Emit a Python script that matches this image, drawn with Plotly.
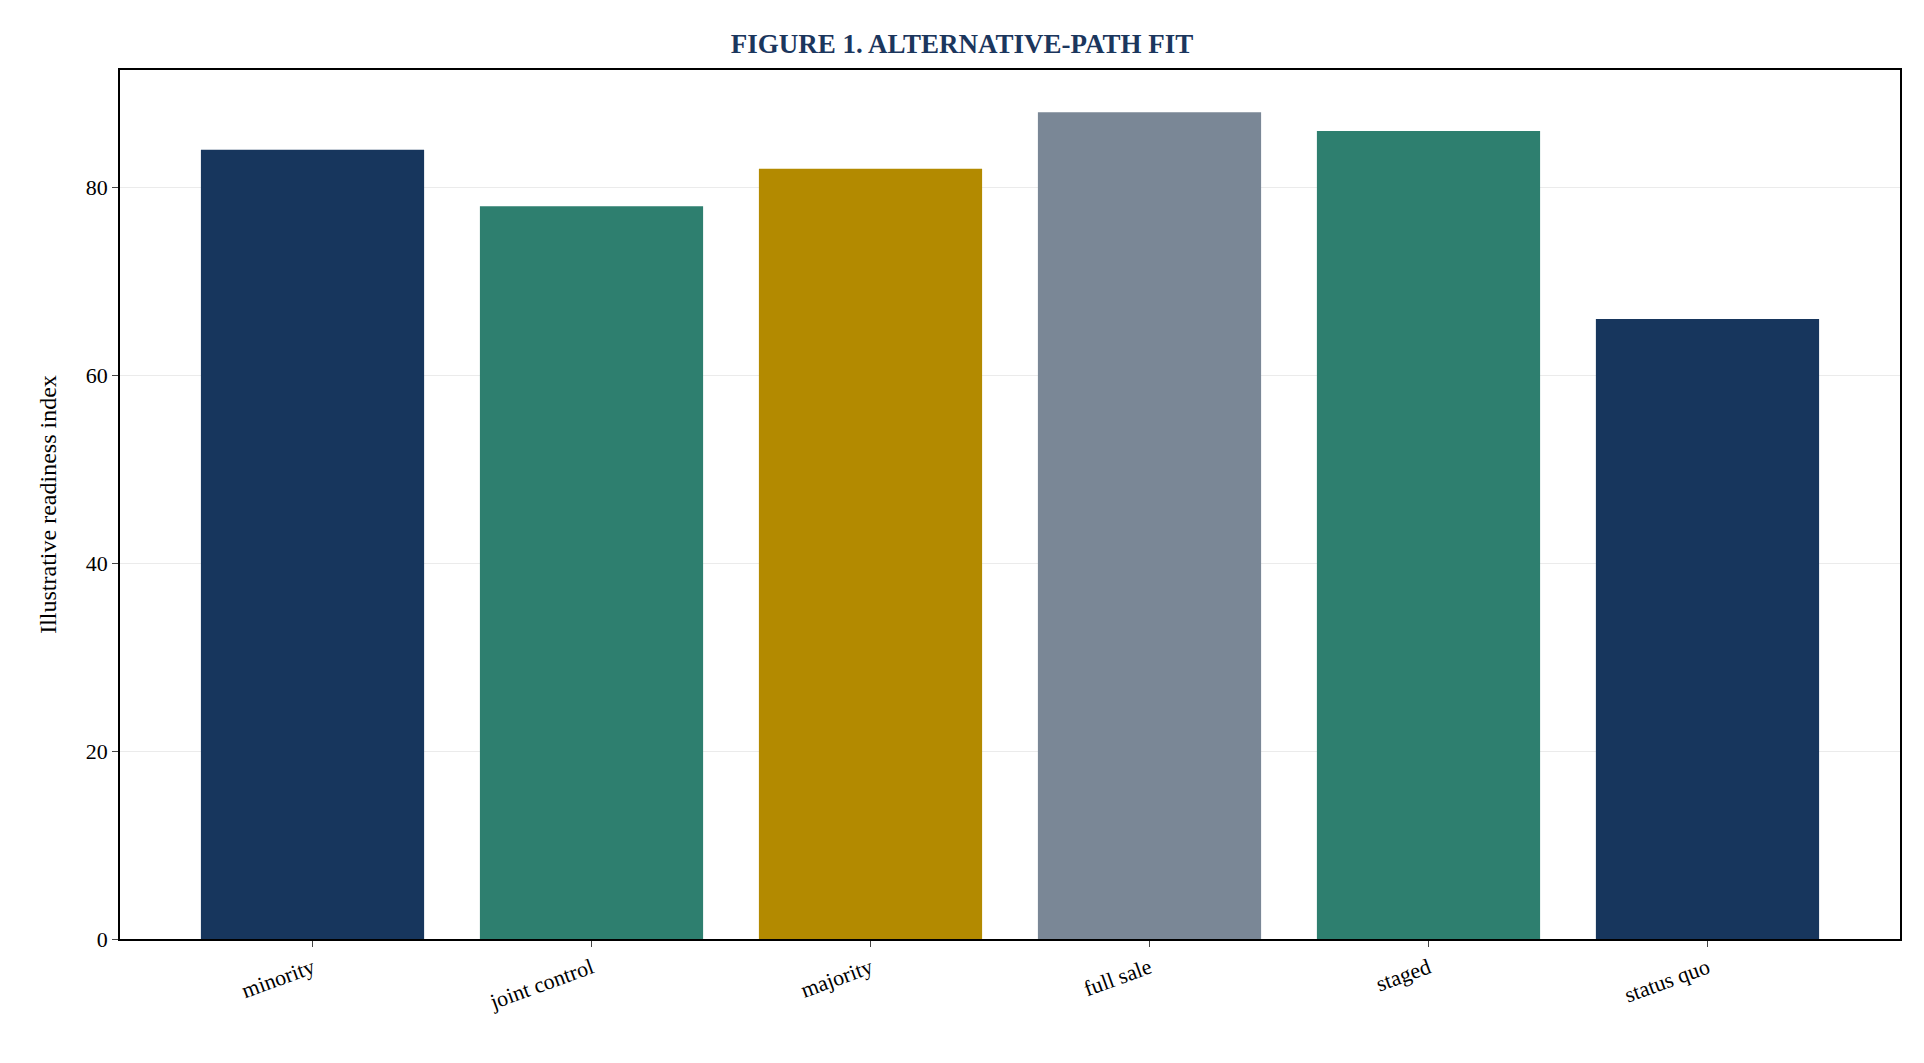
import plotly.graph_objects as go

# chart data
paths = ["minority", "joint control", "majority", "full sale", "staged", "status quo"]
readiness = [84, 78, 82, 88, 86, 66]
bar_colors = ["#17365d", "#2e7f6f", "#b38a00", "#7a8796", "#2e7f6f", "#17365d"]

fig = go.Figure(go.Bar(x=paths, y=readiness, marker_color=bar_colors, marker_line_width=0))

# let the figure fill the browser window
fig.update_layout(
    autosize=True,
    paper_bgcolor="white", plot_bgcolor="white",
    font=dict(family="Liberation Serif", size=22, color="black"),
    title=dict(text="<b>FIGURE 1. ALTERNATIVE-PATH FIT</b>", x=0.5, xanchor="center",
               y=0.975, font=dict(size=27, color="#1b365d")),
    margin=dict(l=112, r=16, t=62, b=116),
    bargap=0.2,
    showlegend=False,
)
fig.update_xaxes(showline=True, linecolor="black", linewidth=1.5, mirror=True,
                 ticks="outside", ticklen=6, tickangle=-20, tickfont=dict(size=22),
                 range=[-0.69, 5.69])
fig.update_yaxes(showline=True, linecolor="black", linewidth=1.5, mirror=True,
                 ticks="outside", ticklen=6, range=[0, 92.5], dtick=20,
                 showgrid=True, gridcolor="rgba(0,0,0,0.08)", zeroline=False,
                 title=dict(text="Illustrative readiness index", font=dict(size=24), standoff=22))

fig.write_html("out.html")
